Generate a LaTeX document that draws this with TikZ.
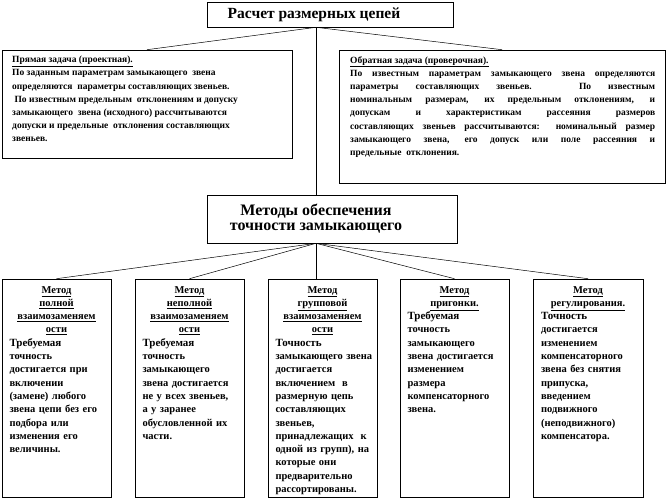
\documentclass[tikz,border=0pt]{standalone}
\usepackage{fontspec}
\setmainfont{Liberation Serif}
\usetikzlibrary{positioning}

\tikzset{
  frame/.style={draw, line width=0.6pt, inner sep=0pt},
  link/.style={line width=0.5pt},
  bighead/.style={font=\bfseries\fontsize{15.5}{15}\selectfont, align=center, inner sep=0pt},
  task/.style={font=\bfseries\fontsize{9.5}{13.2}\selectfont, inner sep=0pt, anchor=north west},
  method/.style={font=\bfseries\fontsize{10.5}{13.3}\selectfont, inner sep=0pt, anchor=north,
    text width=94, align=left},
}
\newcommand{\firstword}[1]{{\fontsize{11}{13.3}\selectfont #1}}

\begin{document}
\begin{tikzpicture}[x=1pt, y=-1pt]
  \useasboundingbox (0,0) rectangle (668,499);
  \coordinate (axis) at (316,0);

  % top level
  \node[frame, minimum width=246, minimum height=25] (calc) at (330,14.5) {};
  \node[bighead] (calct) at (314,14.5) {Расчет размерных цепей};

  % two tasks
  \node[frame, minimum width=290, minimum height=108] (direct) at (147,104) {};
  \node[task, align=left] (directt) at (12,56) {\underline{Прямая задача (проектная).}\\
    По заданным параметрам замыкающего\ \ звена\\
    определяются\ \ параметры составляющих звеньев.\\
    \ По известным предельным\ \ отклонениям и допуску\\
    замыкающего\ \ звена (исходного) рассчитываются\\
    допуски и предельные\ \ отклонения составляющих\\
    звеньев.};

  \node[frame, minimum width=326, minimum height=133] (inverse) at (502,116.5) {};
  \node[task, text width=305, align=justify] (inverset) at (350,56) {\underline{Обратная задача (проверочная).}\\
    По известным параметрам замыкающего звена определяются\linebreak
    параметры составляющих звеньев. По известным\linebreak
    номинальным размерам, их предельным отклонениям, и\linebreak
    допускам и характеристикам рассеяния размеров\linebreak
    составляющих звеньев рассчитываются: номинальный размер\linebreak
    замыкающего звена, его допуск или поле рассеяния и\linebreak
    предельные\ \ отклонения.};

  % methods
  \node[frame, minimum width=250, minimum height=48] (methods) at (332,219) {};
  \node[bighead, font=\bfseries\fontsize{16}{15}\selectfont] (methodst) at (316,219) {Методы обеспечения\\ точности замыкающего};

  \node[frame, minimum width=109, minimum height=218] (m1) at (56.5,388) {};
  \node[method] (m1t) at (56.5,286) {\centering\underline{Метод}\\ \underline{полной}\\ \underline{взаимозаменяем}\\ \underline{ости}\par
    \raggedright\firstword{Требуемая}\\ точность\\ достигается при\\ включении\\ (замене) любого\\
    \mbox{звена цепи без его}\\ подбора или\\ изменения его\\ величины.};

  \node[frame, minimum width=109, minimum height=218] (m2) at (189.5,388) {};
  \node[method] (m2t) at (189.5,286) {\centering\underline{Метод}\\ \underline{неполной}\\ \underline{взаимозаменяем}\\ \underline{ости}\par
    \raggedright\firstword{Требуемая}\\ точность\\ замыкающего\\ \mbox{звена достигается}\\ \mbox{не у всех звеньев,}\\
    а у заранее\\ \mbox{обусловленной их}\\ части.};

  \node[frame, minimum width=109, minimum height=218] (m3) at (322.5,388) {};
  \node[method] (m3t) at (322.5,286) {\centering\underline{Метод}\\ \underline{групповой}\\ \underline{взаимозаменяем}\\ \underline{ости}\par
    \raggedright\firstword{Точность}\\ \mbox{замыкающего\ звена}\\ достигается\\ включением\ \ в\\ размерную цепь\\
    составляющих\\ звеньев,\\ \mbox{принадлежащих\ \ к}\\ \mbox{одной из групп), на}\\ которые они\\ предварительно\\ рассортированы.};

  \node[frame, minimum width=109, minimum height=218] (m4) at (454.5,388) {};
  \node[method] (m4t) at (454.5,286) {\centering\underline{Метод}\\ \underline{пригонки.}\par
    \raggedright\firstword{Требуемая}\\ точность\\ замыкающего\\ \mbox{звена достигается}\\ изменением\\
    размера\\ компенсаторного\\ звена.};

  \node[frame, minimum width=110, minimum height=218] (m5) at (588,388) {};
  \node[method] (m5t) at (588,286) {\centering\underline{Метод}\\ \underline{регулирования.}\par
    \raggedright\firstword{Точность}\\ достигается\\ изменением\\ компенсаторного\\ \mbox{звена без снятия}\\
    припуска,\\ введением\\ подвижного\\ (неподвижного)\\ компенсатора.};

  % connectors
  \draw[link] (calc.south -| axis) -- (direct.north);
  \draw[link] (calc.south -| axis) -- (inverse.north);
  \draw[link] (calc.south -| axis) -- (methods.north -| axis);
  \draw[link] (methods.south -| axis) -- (m1.north);
  \draw[link] (methods.south -| axis) -- (m2.north);
  \draw[link] (methods.south -| axis) -- (m3.north -| axis);
  \draw[link] (methods.south -| axis) -- (m4.north);
  \draw[link] (methods.south -| axis) -- (m5.north);
\end{tikzpicture}
\end{document}
